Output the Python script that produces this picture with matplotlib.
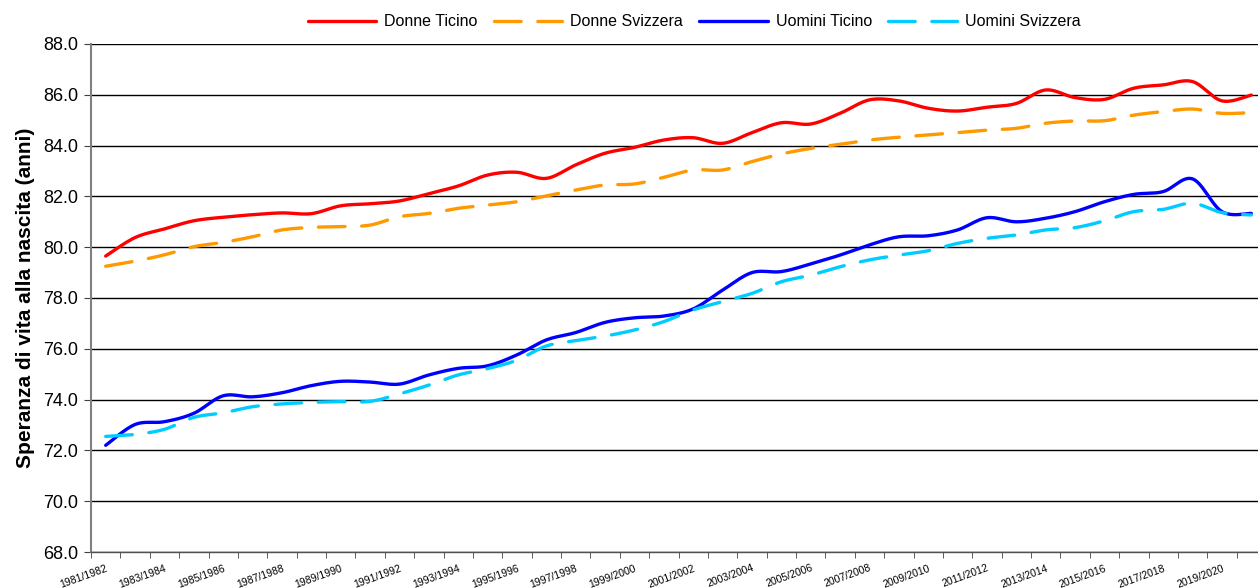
import numpy as np
import matplotlib
matplotlib.use('Agg')
import matplotlib.pyplot as plt

plt.rcParams['font.family'] = ['Liberation Sans', 'DejaVu Sans']

# anni (40 periodi biennali)
anni = ['%d/%d' % (a, a + 1) for a in range(1981, 2021)]

donne_ticino = [79.65, 80.38, 80.72, 81.04, 81.18, 81.28, 81.35, 81.32, 81.63, 81.71,
                81.82, 82.11, 82.41, 82.84, 82.95, 82.71, 83.24, 83.70, 83.93, 84.22,
                84.31, 84.09, 84.51, 84.90, 84.85, 85.27, 85.80, 85.76, 85.47, 85.36,
                85.51, 85.66, 86.19, 85.89, 85.82, 86.26, 86.39, 86.52, 85.76, 85.99]

donne_svizzera = [79.25, 79.45, 79.70, 80.02, 80.19, 80.41, 80.68, 80.78, 80.81, 80.87,
                  81.20, 81.33, 81.53, 81.66, 81.79, 82.02, 82.25, 82.45, 82.49, 82.75,
                  83.04, 83.04, 83.37, 83.67, 83.89, 84.05, 84.22, 84.33, 84.42, 84.51,
                  84.61, 84.68, 84.88, 84.97, 84.98, 85.20, 85.34, 85.44, 85.27, 85.30]

uomini_ticino = [72.20, 73.02, 73.13, 73.46, 74.15, 74.11, 74.27, 74.55, 74.72, 74.69,
                 74.61, 74.97, 75.23, 75.33, 75.76, 76.35, 76.64, 77.04, 77.22, 77.29,
                 77.57, 78.31, 79.00, 79.04, 79.34, 79.69, 80.09, 80.41, 80.45, 80.68,
                 81.16, 81.00, 81.14, 81.40, 81.79, 82.08, 82.19, 82.69, 81.40, 81.33]

uomini_svizzera = [72.55, 72.63, 72.83, 73.30, 73.48, 73.72, 73.83, 73.89, 73.92, 73.93,
                   74.22, 74.57, 74.97, 75.22, 75.55, 76.11, 76.32, 76.50, 76.74, 77.07,
                   77.53, 77.86, 78.18, 78.64, 78.90, 79.23, 79.50, 79.69, 79.86, 80.15,
                   80.35, 80.48, 80.68, 80.77, 81.04, 81.40, 81.49, 81.73, 81.36, 81.27]

serie = [
    ('Donne Ticino', donne_ticino, '#FF0000', '-'),
    ('Donne Svizzera', donne_svizzera, '#FF9900', '--'),
    ('Uomini Ticino', uomini_ticino, '#0000FF', '-'),
    ('Uomini Svizzera', uomini_svizzera, '#00CCFF', '--'),
]


def smooth(x, y, n=12):
    # curva tipo "linea smussata" di Excel (Catmull-Rom)
    x = np.asarray(x, float)
    y = np.asarray(y, float)
    px = np.concatenate([[x[0]], x, [x[-1]]])
    py = np.concatenate([[y[0]], y, [y[-1]]])
    xs, ys = [], []
    t = np.linspace(0, 1, n, endpoint=False)
    for i in range(1, len(px) - 2):
        for p, out in ((px, xs), (py, ys)):
            p0, p1, p2, p3 = p[i - 1], p[i], p[i + 1], p[i + 2]
            out.extend(0.5 * (2 * p1 + (-p0 + p2) * t
                              + (2 * p0 - 5 * p1 + 4 * p2 - p3) * t ** 2
                              + (-p0 + 3 * p1 - 3 * p2 + p3) * t ** 3))
    xs.append(x[-1])
    ys.append(y[-1])
    return xs, ys


fig = plt.figure(figsize=(12.58, 5.88), dpi=100)
ax = fig.add_axes([91 / 1258, 36 / 588, 1175 / 1258, 508 / 588])

x = np.arange(len(anni))
for nome, valori, colore, stile in serie:
    xs, ys = smooth(x, valori)
    if stile == '--':
        ax.plot(xs, ys, color=colore, lw=2.4, dashes=(8, 5), dash_capstyle='round',
                label=nome, zorder=3)
    else:
        ax.plot(xs, ys, color=colore, lw=2.4, solid_capstyle='round', label=nome, zorder=3)

ax.set_xlim(-0.5, len(anni) - 0.5)
ax.set_ylim(68, 88)
ax.set_yticks(np.arange(68, 88.1, 2))
ax.set_yticklabels(['%.1f' % v for v in np.arange(68, 88.1, 2)], fontsize=13)
ax.yaxis.grid(True, color='black', lw=1)
ax.set_axisbelow(True)

ax.set_xticks(x[::2])
ax.set_xticklabels(anni[::2], fontsize=7.5, rotation=20, ha='right', rotation_mode='anchor')
ax.set_xticks(np.arange(-0.5, len(anni), 1), minor=True)
ax.tick_params(axis='x', which='major', length=0, pad=8)
ax.tick_params(axis='x', which='minor', length=4, color='#404040', direction='out')
ax.tick_params(axis='y', length=5, color='#404040', direction='out', pad=4)

for s in ['top', 'right']:
    ax.spines[s].set_visible(False)
ax.spines['left'].set_color('#808080')
ax.spines['left'].set_linewidth(1.5)
ax.spines['bottom'].set_color('#505050')
ax.spines['bottom'].set_linewidth(1)

ax.set_ylabel('Speranza di vita alla nascita (anni)', fontsize=15, fontweight='bold', labelpad=6)

ax.legend(loc='center', bbox_to_anchor=(694 / 1258, 1 - 22 / 588), bbox_transform=fig.transFigure,
          ncol=4, frameon=False, fontsize=11.5, handlelength=4.3, columnspacing=1.0,
          handletextpad=0.5)

fig.savefig('out.png', dpi=100)
